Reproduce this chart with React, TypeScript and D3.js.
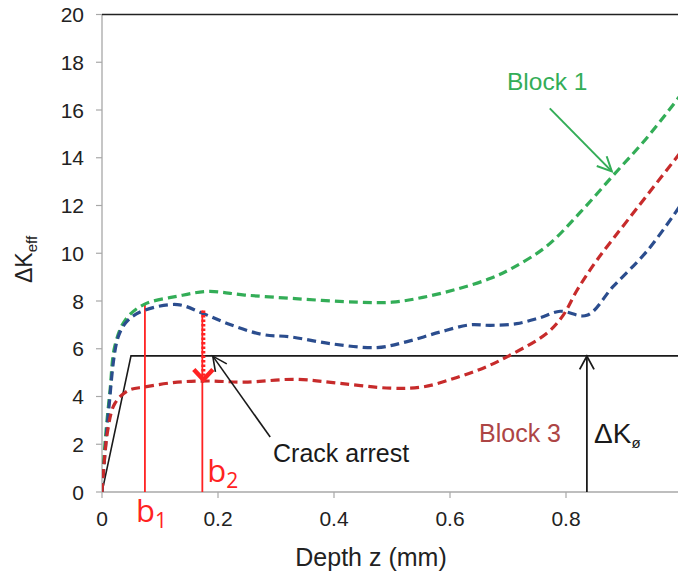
import React from "react";
import * as d3 from "d3";

// Block 1 (green, top curve)
const block1Z = [0, 0.005, 0.014, 0.022, 0.04, 0.072, 0.13, 0.183, 0.246, 0.333, 0.44, 0.5, 0.553, 0.612, 0.67, 0.709, 0.767, 0.824, 0.881, 0.94, 1.0];
const block1K = [0, 2.0, 4.3, 6.1, 7.2, 7.85, 8.2, 8.4, 8.25, 8.1, 7.95, 7.95, 8.15, 8.5, 8.95, 9.4, 10.3, 11.7, 13.25, 14.85, 16.7];

// Block 2 (blue, middle curve)
const block2Z = [0, 0.005, 0.011, 0.028, 0.045, 0.072, 0.13, 0.172, 0.217, 0.276, 0.324, 0.398, 0.474, 0.526, 0.583, 0.634, 0.67, 0.715, 0.755, 0.79, 0.836, 0.881, 0.94, 1.0];
const block2K = [0, 1.6, 3.3, 6.5, 7.2, 7.6, 7.85, 7.5, 7.05, 6.6, 6.5, 6.2, 6.05, 6.3, 6.7, 7.0, 6.98, 7.05, 7.3, 7.57, 7.4, 8.6, 10.1, 12.1];

// Block 3 (red, bottom curve)
const block3Z = [0, 0.01, 0.022, 0.045, 0.074, 0.13, 0.183, 0.246, 0.333, 0.41, 0.497, 0.553, 0.612, 0.663, 0.709, 0.767, 0.795, 0.819, 0.853, 0.91, 1.0];
const block3K = [0, 2.6, 3.7, 4.25, 4.4, 4.6, 4.65, 4.6, 4.72, 4.55, 4.35, 4.4, 4.8, 5.25, 5.8, 6.65, 7.4, 8.45, 9.7, 11.5, 14.3];

// threshold profile ΔKø
const thresholdZ = [0, 0.05, 1.0];
const thresholdK = [0, 5.7, 5.7];

// b1 / b2 depths and tops
const bLabels = ["1", "2"];
const bZ = [0.074, 0.173];
const bTop = [7.85, 7.6];
const arrestK = 4.7;

const xTicks = [0, 0.2, 0.4, 0.6, 0.8];
const xTickLabels = ["0", "0.2", "0.4", "0.6", "0.8"];
const yTicks = [0, 2, 4, 6, 8, 10, 12, 14, 16, 18, 20];

const W = 678;
const H = 575;
const FONT = "'Liberation Sans', Arial, sans-serif";

const x = d3.scaleLinear().domain([0, 1]).range([102, 682]);
const y = d3.scaleLinear().domain([0, 20]).range([492, 14.5]);

const toPts = (zs: number[], ks: number[]) => zs.map((z, i) => [z, ks[i]] as [number, number]);

const curve = d3
  .line<[number, number]>()
  .x((d) => x(d[0]))
  .y((d) => y(d[1]))
  .curve(d3.curveCatmullRom.alpha(0.5));

const straight = d3
  .line<[number, number]>()
  .x((d) => x(d[0]))
  .y((d) => y(d[1]));

// open arrow head, angle = direction the arrow points (radians)
const head = (tx: number, ty: number, ang: number, len: number, spread: number) => {
  const a1 = ang + Math.PI - spread;
  const a2 = ang + Math.PI + spread;
  return `M${tx + len * Math.cos(a1)},${ty + len * Math.sin(a1)}L${tx},${ty}L${tx + len * Math.cos(a2)},${ty + len * Math.sin(a2)}`;
};

export default function App() {
  const series = [
    { pts: toPts(block1Z, block1K), color: "#33ad57" },
    { pts: toPts(block2Z, block2K), color: "#2b4d8e" },
    { pts: toPts(block3Z, block3K), color: "#c72b2b" },
  ];

  // crack arrest arrow
  const caFrom = [x(0.29), y(2.3)];
  const caTo = [x(0.191), y(5.69)];
  const caAng = Math.atan2(caTo[1] - caFrom[1], caTo[0] - caFrom[0]);

  // block 1 arrow
  const b1From = [x(0.772), y(16.07)];
  const b1To = [x(0.879), y(13.43)];
  const b1Ang = Math.atan2(b1To[1] - b1From[1], b1To[0] - b1From[0]);

  const dkZ = 0.836;

  return (
    <svg width={W} height={H} style={{ position: "absolute", left: 0, top: 0, background: "#fff" }} fontFamily={FONT}>
      <defs>
        <clipPath id="plot">
          <rect x={102} y={0} width={W - 102} height={492} />
        </clipPath>
      </defs>

      {/* axes */}
      <line x1={102} x2={102} y1={y(20)} y2={y(0)} stroke="#a8a8a8" strokeWidth={1.3} />
      <line x1={102} x2={W} y1={y(0)} y2={y(0)} stroke="#a8a8a8" strokeWidth={1.3} />
      <line x1={102} x2={W} y1={y(20)} y2={y(20)} stroke="#222" strokeWidth={1.3} />
      {yTicks.map((t) => (
        <g key={"y" + t}>
          <line x1={96} x2={102} y1={y(t)} y2={y(t)} stroke="#a8a8a8" strokeWidth={1.2} />
          <text x={84} y={y(t)} dy="0.36em" textAnchor="end" fontSize={21} fill="#222">
            {t}
          </text>
        </g>
      ))}
      {xTicks.map((t, i) => (
        <g key={"x" + t}>
          <line x1={x(t)} x2={x(t)} y1={y(0)} y2={y(0) + 6} stroke="#a8a8a8" strokeWidth={1.2} />
          <text x={x(t)} y={526} textAnchor="middle" fontSize={21} fill="#222">
            {xTickLabels[i]}
          </text>
        </g>
      ))}
      <text x={371} y={566} textAnchor="middle" fontSize={25} fill="#222">
        Depth z (mm)
      </text>
      <text transform="translate(32,283) rotate(-90)" fontSize={23} fill="#222">
        <tspan>ΔK</tspan>
        <tspan fontSize={15} dy={5}>eff</tspan>
      </text>

      {/* threshold */}
      <path d={straight(toPts(thresholdZ, thresholdK)) || ""} fill="none" stroke="#1a1a1a" strokeWidth={1.6} clipPath="url(#plot)" />

      {/* b1 / b2 markers */}
      {bZ.map((z, i) => (
        <line key={"b" + i} x1={x(z)} x2={x(z)} y1={y(0)} y2={y(bTop[i])} stroke="#ff2222" strokeWidth={1.8} />
      ))}

      {/* curves */}
      <g clipPath="url(#plot)">
        {series.map((s, i) => (
          <path key={i} d={curve(s.pts) || ""} fill="none" stroke={s.color} strokeWidth={3.2} strokeDasharray="9,5" />
        ))}
      </g>

      {/* drop to arrest */}
      <line x1={x(bZ[1]) + 1} x2={x(bZ[1]) + 1} y1={y(bTop[1])} y2={y(arrestK) - 4} stroke="#ff2222" strokeWidth={4} strokeDasharray="2.5,2" />
      <path d={head(x(bZ[1]) + 1, y(arrestK), Math.PI / 2, 14, 0.75)} fill="none" stroke="#ff2222" strokeWidth={4.5} />

      {/* b labels */}
      {bZ.map((z, i) => (
        <text
          key={"bl" + i}
          x={i === 0 ? x(z) - 9 : x(z) + 5}
          y={i === 0 ? 522 : 482}
          fontSize={31}
          fill="#ff2222"
          fontFamily="'Open Sans', sans-serif"
        >
          b
          <tspan fontSize={21} dy={6}>
            {bLabels[i]}
          </tspan>
        </text>
      ))}

      {/* crack arrest */}
      <line x1={caFrom[0]} y1={caFrom[1]} x2={caTo[0]} y2={caTo[1]} stroke="#1a1a1a" strokeWidth={1.6} />
      <path d={head(caTo[0], caTo[1], caAng, 16, 0.45)} fill="none" stroke="#1a1a1a" strokeWidth={1.6} />
      <text x={273} y={462} fontSize={25} fill="#1a1a1a">
        Crack arrest
      </text>

      {/* ΔKø arrow */}
      <line x1={x(dkZ)} x2={x(dkZ)} y1={y(0)} y2={y(5.69)} stroke="#1a1a1a" strokeWidth={1.8} />
      <path d={head(x(dkZ), y(5.69), -Math.PI / 2, 15, 0.5)} fill="none" stroke="#1a1a1a" strokeWidth={1.8} />
      <text x={594} y={443} fontSize={28} fill="#1a1a1a">
        ΔK
        <tspan fontSize={15} dy={5}>ø</tspan>
      </text>

      {/* Block labels */}
      <text x={479} y={442} fontSize={25} fill="#ad4545">
        Block 3
      </text>
      <text x={507} y={90} fontSize={24.5} fill="#33ad57">
        Block 1
      </text>
      <line x1={b1From[0]} y1={b1From[1]} x2={b1To[0]} y2={b1To[1]} stroke="#33ad57" strokeWidth={2} />
      <path d={head(b1To[0], b1To[1], b1Ang, 16, 0.45)} fill="none" stroke="#33ad57" strokeWidth={2} />
    </svg>
  );
}
